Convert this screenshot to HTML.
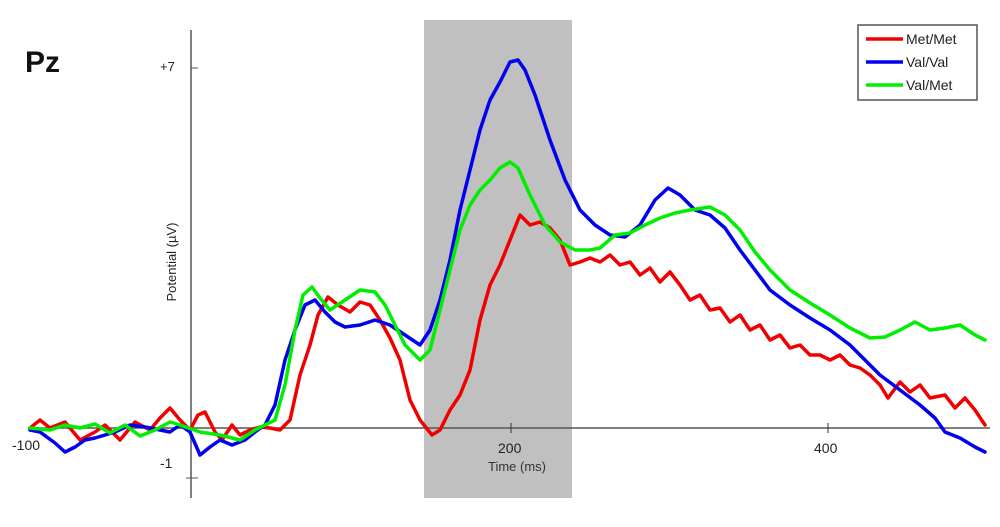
<!DOCTYPE html><html><head><style>body{margin:0;background:#fff}svg{display:block}</style></head><body>
<svg width="1000" height="527" viewBox="0 0 1000 527" xmlns="http://www.w3.org/2000/svg" font-family="Liberation Sans, sans-serif">
<rect x="424" y="20" width="148" height="478" fill="#c0c0c0"/>
<line x1="28" y1="428" x2="990" y2="428" stroke="#555" stroke-width="1.5"/>
<line x1="191" y1="30" x2="191" y2="498" stroke="#555" stroke-width="1.5"/>
<line x1="191" y1="68" x2="198" y2="68" stroke="#555"/>
<line x1="186" y1="478" x2="198" y2="478" stroke="#555"/>
<line x1="511" y1="423" x2="511" y2="433" stroke="#333"/>
<line x1="828" y1="423" x2="828" y2="433" stroke="#333"/>
<text x="25" y="72" font-size="30" font-weight="bold" fill="#111">Pz</text>
<text x="160" y="71" font-size="13" fill="#222">+7</text>
<text x="160" y="468" font-size="14" fill="#222">-1</text>
<text x="12" y="450" font-size="14" fill="#222">-100</text>
<text x="498" y="453" font-size="14" fill="#222">200</text>
<text x="814" y="453" font-size="14" fill="#222">400</text>
<text x="488" y="471" font-size="13" fill="#333">Time (ms)</text>
<text transform="translate(176,262) rotate(-90)" text-anchor="middle" font-size="13" fill="#222">Potential (µV)</text>
<g fill="none" stroke-width="3.5" stroke-linejoin="round" stroke-linecap="round">
<polyline stroke="#f00000" points="30,428 40,420 50,428 65,422 80,440 95,432 105,425 120,440 135,422 150,430 160,418 170,408 180,420 190,430 198,415 205,412 215,432 222,440 232,425 240,435 250,430 260,427 270,428 280,430 290,420 300,375 310,345 318,315 328,297 338,305 350,312 360,302 370,305 380,320 390,338 400,360 410,400 420,420 432,435 440,430 450,410 460,395 470,370 480,320 490,285 500,265 510,240 520,215 530,225 540,222 550,228 560,240 570,265 580,262 590,258 600,262 610,255 620,265 630,262 640,275 650,268 660,282 670,272 680,285 690,300 700,295 710,310 720,308 730,322 740,315 750,330 760,325 770,340 780,335 790,348 800,345 810,355 820,355 830,360 840,355 850,365 860,368 870,375 880,385 888,398 900,382 910,392 920,385 930,398 945,395 955,408 965,398 975,410 985,425"/>
<polyline stroke="#0000ee" points="30,430 40,432 55,443 65,452 75,447 85,440 95,438 105,435 115,432 130,425 145,427 160,430 170,432 180,425 190,432 200,455 210,447 220,440 232,445 245,440 255,432 265,425 275,405 285,360 295,330 305,305 315,300 325,312 335,322 345,327 360,325 375,320 390,325 405,335 420,345 430,330 440,300 450,260 460,210 470,170 480,130 490,100 500,82 510,62 518,60 525,70 535,95 550,140 565,180 580,210 595,225 610,235 625,237 640,225 655,200 668,188 680,195 695,210 710,215 725,228 740,250 755,270 770,290 790,305 810,318 830,330 850,345 865,360 880,375 900,390 920,405 935,418 945,432 960,438 975,447 985,452"/>
<polyline stroke="#00ee00" points="30,428 50,430 65,425 80,428 95,424 110,433 125,425 140,436 155,430 170,422 180,425 200,432 220,435 240,440 255,430 265,425 275,420 285,385 295,330 303,295 312,287 320,298 330,310 345,300 360,290 375,292 385,305 395,325 405,345 420,360 430,350 440,310 450,270 460,230 470,205 480,190 490,180 500,168 510,162 518,168 530,195 545,225 560,242 575,250 590,250 600,248 615,235 630,233 645,225 660,218 675,213 690,210 710,207 725,215 740,230 755,252 770,270 790,290 810,303 830,315 850,328 870,338 885,337 900,330 915,322 930,330 945,328 960,325 975,335 985,340"/>
</g>
<rect x="858" y="25" width="119" height="75" fill="#fff" stroke="#555" stroke-width="1.5"/>
<g stroke-width="3.5"><line x1="866" y1="39" x2="903" y2="39" stroke="#f00000"/><line x1="866" y1="62" x2="903" y2="62" stroke="#0000ee"/><line x1="866" y1="85" x2="903" y2="85" stroke="#00ee00"/></g>
<g font-size="14" fill="#222"><text x="906" y="44">Met/Met</text><text x="906" y="67">Val/Val</text><text x="906" y="90">Val/Met</text></g>
</svg></body></html>
